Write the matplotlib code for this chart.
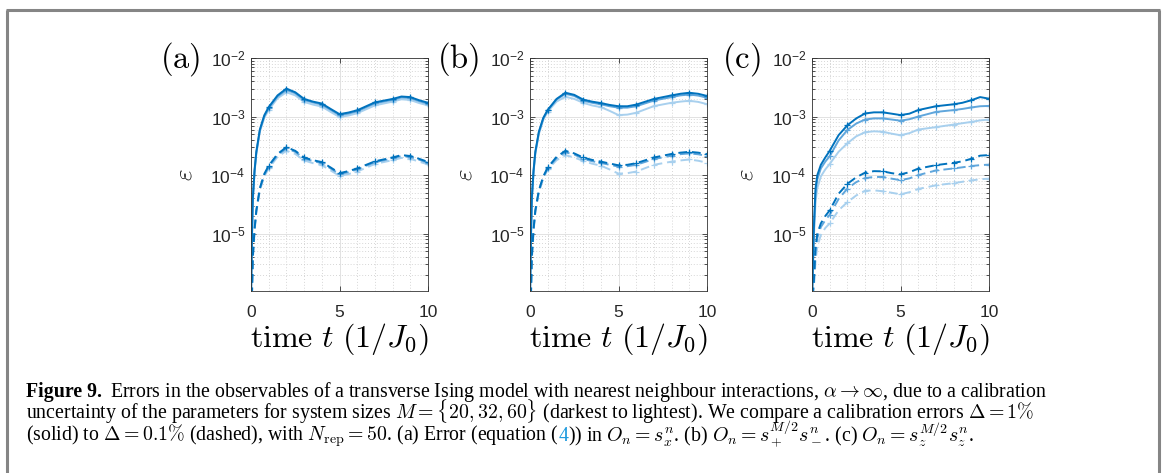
import matplotlib
matplotlib.use('Agg')
import matplotlib.pyplot as plt
from matplotlib.lines import Line2D
from matplotlib.ticker import FixedLocator, FixedFormatter, MultipleLocator, LogLocator, NullFormatter

plt.rcParams['font.family'] = 'Liberation Sans'
plt.rcParams['mathtext.fontset'] = 'custom'
plt.rcParams['mathtext.rm'] = 'Liberation Sans'
plt.rcParams['mathtext.it'] = 'Liberation Sans:italic'

# time grid shared by all curves
t = [0, 0.05, 0.1, 0.2, 0.3, 0.5, 0.75, 1, 1.5, 2, 2.5, 3, 3.5, 4, 4.5, 5,
     5.5, 6, 7, 8, 8.5, 9, 9.5, 10]

# (a) O_n = s_x^n, M = 20, 32, 60 ; solid = 1 %, dashed = 0.1 %
a_solid_20 = [8e-7, 8e-6, 4e-5, 1.2e-4, 2.5e-4, 6e-4, 1.05e-3, 1.45e-3, 2.3e-3, 3.0e-3, 2.6e-3, 2.0e-3,
              1.8e-3, 1.67e-3, 1.35e-3, 1.1e-3, 1.17e-3, 1.28e-3, 1.75e-3, 2.0e-3, 2.2e-3, 2.15e-3, 1.9e-3, 1.72e-3]
a_solid_32 = [8e-7, 7.5e-6, 3.8e-5, 1.15e-4, 2.4e-4, 5.8e-4, 1.0e-3, 1.4e-3, 2.2e-3, 2.85e-3, 2.5e-3, 1.92e-3,
              1.74e-3, 1.6e-3, 1.3e-3, 1.06e-3, 1.12e-3, 1.23e-3, 1.68e-3, 1.93e-3, 2.12e-3, 2.07e-3, 1.83e-3, 1.65e-3]
a_solid_60 = [8e-7, 7e-6, 3.5e-5, 1.1e-4, 2.3e-4, 5.5e-4, 9.5e-4, 1.3e-3, 2.05e-3, 2.6e-3, 2.3e-3, 1.78e-3,
              1.6e-3, 1.48e-3, 1.2e-3, 0.98e-3, 1.04e-3, 1.14e-3, 1.55e-3, 1.8e-3, 1.97e-3, 1.92e-3, 1.7e-3, 1.55e-3]
a_dash_20 = [1e-7, 8e-7, 4e-6, 1.2e-5, 2.5e-5, 6e-5, 1.05e-4, 1.45e-4, 2.3e-4, 3.0e-4, 2.6e-4, 2.0e-4,
             1.8e-4, 1.67e-4, 1.35e-4, 1.08e-4, 1.17e-4, 1.3e-4, 1.72e-4, 2.0e-4, 2.2e-4, 2.12e-4, 1.9e-4, 1.68e-4]
a_dash_32 = [1e-7, 7.5e-7, 3.8e-6, 1.15e-5, 2.4e-5, 5.8e-5, 1.0e-4, 1.4e-4, 2.2e-4, 2.85e-4, 2.5e-4, 1.92e-4,
             1.74e-4, 1.6e-4, 1.3e-4, 1.04e-4, 1.12e-4, 1.25e-4, 1.66e-4, 1.93e-4, 2.12e-4, 2.05e-4, 1.83e-4, 1.62e-4]
a_dash_60 = [1e-7, 7e-7, 3.5e-6, 1.1e-5, 2.3e-5, 5.5e-5, 9.5e-5, 1.3e-4, 2.05e-4, 2.6e-4, 2.3e-4, 1.78e-4,
             1.6e-4, 1.48e-4, 1.2e-4, 0.97e-4, 1.04e-4, 1.15e-4, 1.55e-4, 1.8e-4, 1.97e-4, 1.9e-4, 1.7e-4, 1.52e-4]

# (b) O_n = s_+^{M/2} s_-^n
b_solid_20 = [8e-7, 8e-6, 4e-5, 1.2e-4, 2.5e-4, 5.5e-4, 9.5e-4, 1.3e-3, 2.0e-3, 2.55e-3, 2.35e-3, 1.95e-3,
              1.8e-3, 1.7e-3, 1.58e-3, 1.5e-3, 1.5e-3, 1.6e-3, 2.0e-3, 2.3e-3, 2.45e-3, 2.55e-3, 2.45e-3, 2.25e-3]
b_solid_32 = [8e-7, 7.5e-6, 3.8e-5, 1.15e-4, 2.4e-4, 5.3e-4, 9.2e-4, 1.27e-3, 1.95e-3, 2.45e-3, 2.25e-3, 1.87e-3,
              1.72e-3, 1.62e-3, 1.5e-3, 1.42e-3, 1.42e-3, 1.5e-3, 1.88e-3, 2.15e-3, 2.3e-3, 2.38e-3, 2.28e-3, 2.1e-3]
b_solid_60 = [8e-7, 7e-6, 3.5e-5, 1.1e-4, 2.3e-4, 5e-4, 8.8e-4, 1.22e-3, 1.8e-3, 2.18e-3, 2.0e-3, 1.72e-3,
              1.55e-3, 1.45e-3, 1.25e-3, 1.06e-3, 1.08e-3, 1.16e-3, 1.51e-3, 1.72e-3, 1.8e-3, 1.86e-3, 1.78e-3, 1.63e-3]
b_dash_20 = [1e-7, 8e-7, 4e-6, 1.2e-5, 2.5e-5, 5.5e-5, 9.5e-5, 1.35e-4, 2.05e-4, 2.6e-4, 2.35e-4, 2.0e-4,
             1.82e-4, 1.7e-4, 1.58e-4, 1.47e-4, 1.5e-4, 1.6e-4, 2.0e-4, 2.3e-4, 2.42e-4, 2.5e-4, 2.42e-4, 2.28e-4]
b_dash_32 = [1e-7, 7.5e-7, 3.8e-6, 1.15e-5, 2.4e-5, 5.3e-5, 9.2e-5, 1.3e-4, 1.95e-4, 2.45e-4, 2.25e-4, 1.9e-4,
             1.73e-4, 1.62e-4, 1.5e-4, 1.4e-4, 1.42e-4, 1.5e-4, 1.88e-4, 2.15e-4, 2.28e-4, 2.35e-4, 2.27e-4, 2.12e-4]
b_dash_60 = [1e-7, 7e-7, 3.5e-6, 1.1e-5, 2.3e-5, 5e-5, 8.8e-5, 1.25e-4, 1.8e-4, 2.19e-4, 2.0e-4, 1.75e-4,
             1.57e-4, 1.45e-4, 1.25e-4, 1.06e-4, 1.08e-4, 1.15e-4, 1.5e-4, 1.7e-4, 1.78e-4, 1.85e-4, 1.76e-4, 1.63e-4]

# (c) O_n = s_z^{M/2} s_z^n
c_solid_20 = [8e-7, 3e-6, 1.2e-5, 6e-5, 1e-4, 1.5e-4, 2e-4, 2.6e-4, 4.8e-4, 7.1e-4, 9.3e-4, 1.13e-3,
              1.18e-3, 1.18e-3, 1.12e-3, 1.06e-3, 1.12e-3, 1.29e-3, 1.5e-3, 1.62e-3, 1.72e-3, 1.9e-3, 2.15e-3, 2.02e-3]
c_solid_32 = [8e-7, 2.5e-6, 1e-5, 5e-5, 8.5e-5, 1.3e-4, 1.7e-4, 2.1e-4, 3.9e-4, 5.9e-4, 7.6e-4, 8.9e-4,
              9.3e-4, 9.3e-4, 8.9e-4, 8.5e-4, 9e-4, 1.0e-3, 1.2e-3, 1.29e-3, 1.35e-3, 1.43e-3, 1.5e-3, 1.52e-3]
c_solid_60 = [8e-7, 2e-6, 8e-6, 3.5e-5, 6e-5, 9.5e-5, 1.25e-4, 1.55e-4, 2.5e-4, 3.5e-4, 4.6e-4, 5.4e-4,
              5.6e-4, 5.5e-4, 5.1e-4, 4.8e-4, 5.2e-4, 6.0e-4, 6.6e-4, 7.3e-4, 7.7e-4, 8.1e-4, 8.6e-4, 8.9e-4]
c_dash_20 = [1e-7, 1.1e-6, 1.5e-6, 6e-6, 1e-5, 1.5e-5, 2e-5, 2.5e-5, 4.8e-5, 7.1e-5, 9.2e-5, 1.1e-4,
             1.17e-4, 1.16e-4, 1.08e-4, 1.03e-4, 1.12e-4, 1.29e-4, 1.48e-4, 1.62e-4, 1.72e-4, 1.9e-4, 2.15e-4, 2.2e-4]
c_dash_32 = [1e-7, 1e-6, 1.3e-6, 5e-6, 8.5e-6, 1.3e-5, 1.7e-5, 2.1e-5, 3.9e-5, 5.9e-5, 7.6e-5, 8.9e-5,
             9.3e-5, 9.3e-5, 8.7e-5, 8.2e-5, 8.8e-5, 1.0e-4, 1.2e-4, 1.3e-4, 1.36e-4, 1.43e-4, 1.48e-4, 1.51e-4]
c_dash_60 = [1e-7, 9e-7, 1.1e-6, 3.5e-6, 6e-6, 9.5e-6, 1.25e-5, 1.5e-5, 2.5e-5, 3.46e-5, 4.5e-5, 5.4e-5,
             5.5e-5, 5.3e-5, 5e-5, 4.7e-5, 5.1e-5, 5.8e-5, 6.7e-5, 7.3e-5, 7.7e-5, 8.1e-5, 8.5e-5, 8.7e-5]

panels = [
    ('(a)', [a_solid_20, a_solid_32, a_solid_60], [a_dash_20, a_dash_32, a_dash_60]),
    ('(b)', [b_solid_20, b_solid_32, b_solid_60], [b_dash_20, b_dash_32, b_dash_60]),
    ('(c)', [c_solid_20, c_solid_32, c_solid_60], [c_dash_20, c_dash_32, c_dash_60]),
]
colors = ['#0072BD', '#5FA6DC', '#A8D0EE']   # M = 20, 32, 60 (darkest to lightest)
ytick_vals = [1e-5, 1e-4, 1e-3, 1e-2]
ytick_text = [r'$10^{-5}$', r'$10^{-4}$', r'$10^{-3}$', r'$10^{-2}$']
xtick_vals = [0, 5, 10]

W, H = 1163, 473
fig = plt.figure(figsize=(W / 100, H / 100), dpi=100)


def px(x, y):
    return x / W, 1 - y / H


ax_left = [251, 530, 812]
ax_top, ax_bot, ax_w = 58, 291, 177
mark_idx = [i for i, v in enumerate(t) if v == int(v) and v > 0]

for (label, solids, dashes), left in zip(panels, ax_left):
    ax = fig.add_axes([left / W, 1 - ax_bot / H, ax_w / W, (ax_bot - ax_top) / H])
    for k in [2, 1, 0]:
        ax.plot(t, solids[k], color=colors[k], lw=1.4, marker='+', markevery=mark_idx,
                ms=4.5, mew=0.9)
        ax.plot(t, dashes[k], color=colors[k], lw=1.4, ls=(0, (4.5, 2.5)), marker='+',
                markevery=mark_idx, ms=4.5, mew=0.9)
    ax.set_yscale('log')
    ax.set_xlim(0, 10)
    ax.set_ylim(1.05e-6, 1e-2)
    ax.xaxis.set_major_locator(FixedLocator(xtick_vals))
    ax.xaxis.set_minor_locator(MultipleLocator(1))
    ax.yaxis.set_major_locator(FixedLocator(ytick_vals))
    ax.yaxis.set_major_formatter(FixedFormatter(ytick_text))
    ax.yaxis.set_minor_locator(LogLocator(base=10, subs=range(2, 10)))
    ax.yaxis.set_minor_formatter(NullFormatter())
    ax.grid(True, which='major', color='#e2e2e2', lw=0.7, ls='-')
    ax.grid(True, which='minor', color='#c9c9c9', lw=0.6, ls=(0, (1, 2.5)))
    ax.set_axisbelow(True)
    ax.tick_params(which='both', direction='in', top=True, right=True, color='#333333',
                   width=0.6, labelsize=12.5, labelcolor='#262626')
    ax.tick_params(which='major', length=3.5)
    ax.tick_params(which='minor', length=2)
    ax.tick_params(axis='x', which='minor', length=0)
    ax.tick_params(axis='x', pad=10)
    ax.tick_params(axis='y', pad=4)
    for sp in ax.spines.values():
        sp.set_color('#333333')
        sp.set_linewidth(0.6)

    # panel tag, y label and x label
    fig.text(*px(left - 51, 59), r'$\mathrm{' + label + '}$', fontsize=23.5,
             math_fontfamily='cm', ha='right', va='center')
    fig.text(*px(left - 66, 175), r'$\varepsilon$', fontsize=18, math_fontfamily='cm',
             rotation=90, ha='center', va='center')
    fig.text(*px(left + ax_w / 2, 339), r'$\mathrm{time}\ t\ (1/J_0)$', fontsize=23,
             math_fontfamily='cm', ha='center', va='center')

# page frame around the figure
frame = dict(color='#858585', lw=2.2, solid_capstyle='butt')
fig.add_artist(Line2D([7 / W, 7 / W], [0, 1 - 10 / H], **frame))
fig.add_artist(Line2D([6 / W, 1160 / W], [1 - 10 / H, 1 - 10 / H], **frame))
fig.add_artist(Line2D([1159 / W, 1159 / W], [0, 1 - 10 / H], **frame))

# caption
cap = dict(fontsize=14.3, family='Liberation Serif', math_fontfamily='cm', va='baseline')
renderer = fig.canvas.get_renderer()


def caption_line(x0, y, pieces, gap=0):
    x = x0
    for s, extra in pieces:
        kw = dict(cap)
        kw.update(extra)
        txt = fig.text(*px(x, y), s, **kw)
        x += txt.get_window_extent(renderer).width + gap
    return x


x_after = caption_line(26, 397, [('Figure 9.', {'weight': 'bold'})])
caption_line(x_after + 8, 397, [(r'Errors in the observables of a transverse Ising model with nearest '
                                 r'neighbour interactions, $\alpha \to \infty$, due to a calibration', {})])
caption_line(26, 419, [(r'uncertainty of the parameters for system sizes $M = \{20, 32, 60\}$ '
                        r'(darkest to lightest). We compare a calibration errors $\Delta = 1\%$', {})])
caption_line(26, 441, [(r'(solid) to $\Delta = 0.1\%$ (dashed), with $N_{\mathrm{rep}} = 50$. '
                        r'(a) Error (equation (', {}),
                       ('4', {'color': '#1F9BDE'}),
                       (r')) in $O_n = s_x^n$. (b) $O_n = s_+^{M/2} s_-^n$. '
                        r'(c) $O_n = s_z^{M/2} s_z^n$.', {})])

fig.savefig('out.png', dpi=100)
